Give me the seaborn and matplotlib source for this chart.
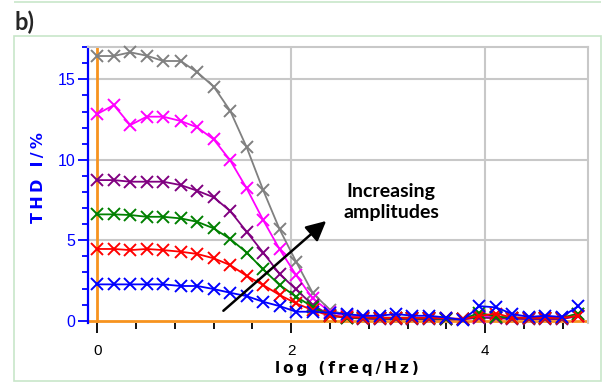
import numpy as np
import pandas as pd
import matplotlib
matplotlib.use("Agg")
import matplotlib.pyplot as plt
from matplotlib.patches import Rectangle
from matplotlib.ticker import MultipleLocator
import seaborn as sns

# ---- data ----
log_freq = [0.00, 0.17, 0.34, 0.51, 0.68, 0.86, 1.03, 1.20, 1.37, 1.54,
            1.71, 1.88, 2.05, 2.22, 2.40, 2.57, 2.74, 2.91, 3.08, 3.25,
            3.42, 3.60, 3.77, 3.94, 4.11, 4.28, 4.45, 4.62, 4.79, 4.96]

thd_gray = [16.45, 16.45, 16.68, 16.47, 16.14, 16.14, 15.44, 14.55, 13.05, 10.78,
            8.12, 5.68, 3.67, 1.74, 0.66, 0.35, 0.25, 0.20, 0.20, 0.20,
            0.15, 0.12, 0.10, 0.35, 0.22, 0.20, 0.15, 0.15, 0.15, 0.45]
thd_magenta = [12.85, 13.40, 12.16, 12.68, 12.68, 12.41, 12.02, 11.27, 9.97, 8.23,
               6.26, 4.44, 2.84, 1.39, 0.55, 0.30, 0.20, 0.18, 0.18, 0.15,
               0.15, 0.12, 0.10, 0.25, 0.20, 0.15, 0.15, 0.15, 0.15, 0.30]
thd_purple = [8.74, 8.74, 8.64, 8.64, 8.64, 8.43, 8.08, 7.67, 6.82, 5.53,
              4.24, 2.90, 1.95, 0.98, 0.35, 0.20, 0.12, 0.10, 0.10, 0.10,
              0.10, 0.08, 0.08, 0.20, 0.15, 0.12, 0.10, 0.10, 0.10, 0.30]
thd_green = [6.61, 6.61, 6.57, 6.46, 6.46, 6.36, 6.15, 5.74, 5.08, 4.24,
             3.19, 2.22, 1.49, 0.87, 0.30, 0.20, 0.18, 0.15, 0.15, 0.15,
             0.15, 0.12, 0.10, 0.50, 0.25, 0.20, 0.18, 0.18, 0.18, 0.45]
thd_red = [4.46, 4.46, 4.39, 4.46, 4.39, 4.29, 4.15, 3.88, 3.46, 2.79,
           2.22, 1.60, 1.08, 0.66, 0.30, 0.22, 0.20, 0.18, 0.18, 0.18,
           0.18, 0.15, 0.12, 0.30, 0.45, 0.20, 0.18, 0.18, 0.18, 0.30]
thd_blue = [2.26, 2.26, 2.26, 2.26, 2.26, 2.16, 2.16, 1.97, 1.74, 1.53,
            1.18, 0.91, 0.56, 0.56, 0.50, 0.42, 0.31, 0.31, 0.42, 0.31,
            0.31, 0.20, 0.04, 0.91, 0.83, 0.42, 0.24, 0.31, 0.24, 0.91]

series_names = ["gray", "magenta", "purple", "green", "red", "blue"]
series_values = [thd_gray, thd_magenta, thd_purple, thd_green, thd_red, thd_blue]
series_colors = ["#808080", "#ff00ff", "#800080", "#008000", "#ff0000", "#0000ff"]

x_ticks = [0, 2, 4]
y_ticks = [0, 5, 10, 15]

# ---- figure ----
sns.set_theme(style="white")
plt.rcParams["font.family"] = ["Liberation Sans", "DejaVu Sans"]

W, H = 606, 383
fig = plt.figure(figsize=(W / 100, H / 100), dpi=100)
ax = fig.add_axes([88 / W, 1 - 323 / H, (588 - 88) / W, (323 - 47) / H])

df = pd.DataFrame({
    "x": np.tile(log_freq, len(series_names)),
    "y": np.concatenate(series_values),
    "s": np.repeat(series_names, len(log_freq)),
})

ax.set_xlim(-0.096, 5.06)
ax.set_ylim(-0.14, 17.01)

# grid
for xv in [2, 4]:
    ax.axvline(xv, color="#c8c8c8", lw=1.5, zorder=0)
for yv in [5, 10, 15]:
    ax.axhline(yv, color="#c8c8c8", lw=1.5, zorder=0)

# orange zero lines
ax.axvline(0, color="#f7931e", lw=2, zorder=1)
ax.axhline(0, color="#f7931e", lw=2, zorder=1)

for name, col in zip(series_names, series_colors):
    sub = df[df["s"] == name]
    sns.lineplot(data=sub, x="x", y="y", color=col, marker="x", markersize=8,
                 markeredgewidth=1.4, markeredgecolor=col, lw=1.3, ax=ax,
                 legend=False, zorder=3, clip_on=False)

# arrow and annotation
ax.annotate("", xy=(2.36, 6.2), xytext=(1.30, 0.62),
            arrowprops=dict(arrowstyle="-|>,head_length=1.0,head_width=0.5",
                            color="black", lw=1.8, shrinkA=0, shrinkB=0),
            zorder=4)
ax.text(3.03, 7.38, "Increasing\namplitudes", ha="center", va="center",
        fontsize=14, fontweight="bold", family=["Lato", "DejaVu Sans"],
        linespacing=1.3, color="black")

# spines
for side in ["top", "right"]:
    ax.spines[side].set_color("#c8c8c8")
    ax.spines[side].set_linewidth(1.5)
ax.spines["bottom"].set_visible(False)
ax.spines["left"].set_color("#0000ff")
ax.spines["left"].set_linewidth(1.6)

ax.set_xticks(x_ticks)
ax.set_xticklabels([str(t) for t in x_ticks])
ax.set_yticks(y_ticks)
ax.set_yticklabels([str(t) for t in y_ticks])
ax.xaxis.set_minor_locator(MultipleLocator(0.4))
ax.yaxis.set_minor_locator(MultipleLocator(1))
ax.tick_params(axis="x", which="major", direction="out", length=7, width=1.3,
               color="black", labelsize=11, labelcolor="black", pad=8,
               bottom=True)
ax.tick_params(axis="x", which="minor", direction="out", length=4, width=1.3,
               color="black", bottom=True)
ax.tick_params(axis="y", which="major", direction="out", length=7, width=1.3,
               color="#0000ff", labelsize=11.5, labelcolor="#0000ff", pad=2,
               left=True)
ax.tick_params(axis="y", which="minor", direction="out", length=4, width=1.3,
               color="#0000ff", left=True)

ts = "\u2009"
ax.set_xlabel(ts.join("log (freq/Hz)"), fontsize=11, fontweight="bold",
              color="black", family=["DejaVu Sans"])
ax.xaxis.set_label_coords((347 - 88) / 500, -(369 - 323) / 276)
ax.xaxis.label.set_va("center")
ax.set_ylabel(ts.join("THD I/%"), fontsize=11.5, fontweight="bold",
              color="#0000ff", family=["DejaVu Sans"])
ax.yaxis.set_label_coords(-(88 - 38) / 500, (323 - 178) / 276)
ax.yaxis.label.set_va("center")

# panel label and frame
fig.text(15 / W, 1 - 22 / H, "b)", fontsize=17, fontweight="bold",
         ha="left", va="center", family=["Lato", "DejaVu Sans"])
fig.add_artist(Rectangle((14 / W, 1 - 381 / H), (601 - 14) / W, (381 - 36) / H,
                         transform=fig.transFigure, fill=False,
                         edgecolor="#c8e6c9", lw=1.2))
fig.add_artist(Rectangle((14 / W, 1 - 1.5 / H), (601 - 14) / W, 0.0,
                         transform=fig.transFigure, fill=False,
                         edgecolor="#c8e6c9", lw=1.2))

fig.savefig("out.png", dpi=100)
